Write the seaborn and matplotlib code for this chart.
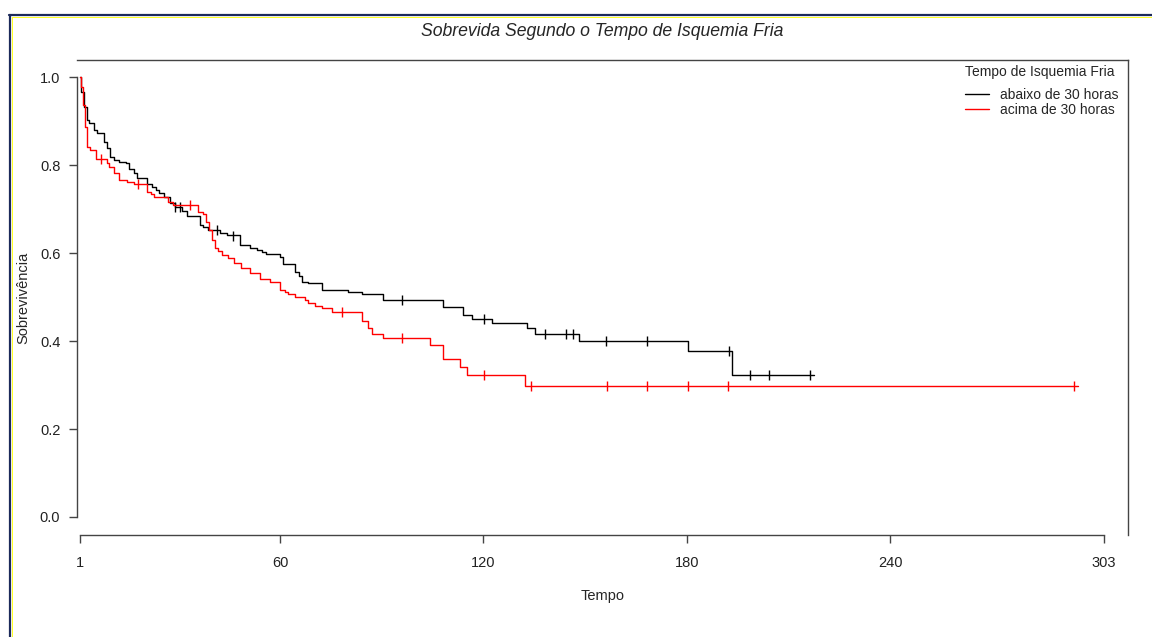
import numpy as np
import pandas as pd
import matplotlib
matplotlib.use("Agg")
import matplotlib.pyplot as plt
import seaborn as sns
from matplotlib.lines import Line2D

# Kaplan-Meier steps (time, survival after the step)
t_abaixo = [1, 1.4, 2.2, 3.0, 3.7, 5.1, 6.1, 8.1, 9.1, 10.0, 11.0, 12.5, 14.5, 15.4,
            16.9, 17.9, 20.8, 22.3, 23.3, 24.3, 25.8, 27.5, 29.0, 31.0, 32.5, 36.4,
            37.4, 38.8, 42.3, 44.3, 48.2, 51.1, 53.1, 54.6, 56.0, 60.0, 61.0, 64.4,
            65.5, 66.4, 68.3, 72.3, 80.1, 84.1, 90.4, 108.1, 114.0, 116.5, 122.4,
            132.7, 135.2, 148.2, 180.4, 193.4, 217.5]
s_abaixo = [1.0, 0.967, 0.933, 0.902, 0.896, 0.880, 0.872, 0.853, 0.840, 0.819, 0.811,
            0.807, 0.804, 0.792, 0.781, 0.770, 0.758, 0.750, 0.743, 0.737, 0.728, 0.713,
            0.705, 0.696, 0.684, 0.664, 0.660, 0.652, 0.645, 0.641, 0.618, 0.611, 0.607,
            0.603, 0.598, 0.590, 0.576, 0.557, 0.548, 0.535, 0.531, 0.516, 0.512, 0.507,
            0.493, 0.477, 0.459, 0.451, 0.440, 0.429, 0.416, 0.400, 0.377, 0.322, 0.322]

t_acima = [1, 1.4, 2.0, 2.4, 3.2, 4.1, 5.6, 9.1, 9.6, 11.0, 12.5, 15.0, 17.0, 20.8,
           21.8, 22.8, 27.0, 28.5, 35.9, 37.4, 38.2, 39.1, 39.8, 40.8, 41.8, 42.8,
           44.7, 46.5, 48.5, 51.0, 54.0, 57.0, 60.0, 61.5, 62.4, 64.4, 67.4, 68.3,
           70.3, 72.3, 75.2, 84.1, 86.0, 87.0, 90.4, 104.2, 108.1, 113.1, 115.0,
           132.2, 295.3]
s_acima = [1.0, 0.978, 0.936, 0.887, 0.842, 0.835, 0.815, 0.805, 0.796, 0.781, 0.766,
           0.762, 0.758, 0.739, 0.734, 0.728, 0.717, 0.709, 0.694, 0.689, 0.671, 0.652,
           0.630, 0.611, 0.604, 0.596, 0.588, 0.578, 0.566, 0.555, 0.541, 0.535, 0.516,
           0.512, 0.508, 0.501, 0.493, 0.487, 0.480, 0.474, 0.465, 0.446, 0.429, 0.416,
           0.406, 0.391, 0.360, 0.342, 0.323, 0.298, 0.298]

# censored observations
cens_t_abaixo = [29.0, 30.5, 41.3, 46.2, 96.1, 120.2, 138.1, 144.2, 146.3, 156.2,
                 168.1, 192.3, 198.5, 204.3, 216.3]
cens_s_abaixo = [0.705, 0.705, 0.652, 0.638, 0.493, 0.451, 0.416, 0.416, 0.416, 0.400,
                 0.400, 0.377, 0.322, 0.322, 0.322]
cens_t_acima = [7.3, 18.1, 33.4, 78.2, 96.1, 120.2, 134.0, 156.4, 168.2, 180.3, 192.1, 294.1]
cens_s_acima = [0.815, 0.758, 0.709, 0.465, 0.406, 0.323, 0.298, 0.298, 0.298, 0.298,
                0.298, 0.298]

x_ticks = [1, 60, 120, 180, 240, 303]
y_ticks = [0.0, 0.2, 0.4, 0.6, 0.8, 1.0]

sns.set_style("white")
plt.rcParams["font.family"] = ["Liberation Sans", "DejaVu Sans"]

fig = plt.figure(figsize=(11.52, 6.37), dpi=100)
ax = fig.add_axes([77 / 1152, 1 - 535 / 637, (1128 - 77) / 1152, (535 - 60) / 637])

sns.lineplot(x=t_abaixo, y=s_abaixo, ax=ax, color="black", drawstyle="steps-post",
             estimator=None, sort=False, linewidth=1.0)
sns.lineplot(x=t_acima, y=s_acima, ax=ax, color="#ff0000", drawstyle="steps-post",
             estimator=None, sort=False, linewidth=1.0)
sns.scatterplot(x=cens_t_abaixo, y=cens_s_abaixo, ax=ax, marker="|", s=60,
                color="black", linewidth=1.0)
sns.scatterplot(x=cens_t_acima, y=cens_s_acima, ax=ax, marker="|", s=60,
                color="#ff0000", linewidth=1.0)

ax.set_xlim(0.12, 310.1)
ax.set_ylim(-0.041, 1.039)
ax.set_xticks(x_ticks)
ax.set_xticklabels([str(v) for v in x_ticks])
ax.set_yticks(y_ticks)
ax.set_yticklabels([f"{v:.1f}" for v in y_ticks])

for side in ["left", "bottom", "top", "right"]:
    ax.spines[side].set_visible(True)
    ax.spines[side].set_color("#444444")
    ax.spines[side].set_linewidth(1.0)
ax.spines["left"].set_bounds(0, 1)
ax.spines["bottom"].set_bounds(1, 303)

ax.tick_params(axis="both", direction="out", length=6, width=1.0, color="#444444",
               labelsize=10.5, labelcolor="#222222")
ax.tick_params(axis="x", pad=9)
ax.tick_params(axis="y", pad=6)
ax.tick_params(left=True, bottom=True)

ax.set_xlabel("Tempo", fontsize=10.5, labelpad=14)
ax.set_ylabel("Sobrevivência", fontsize=10.5, labelpad=7)
ax.set_title("Sobrevida Segundo o Tempo de Isquemia Fria", fontsize=12.7, style="italic",
             pad=17)

handles = [Line2D([], [], color="black", linewidth=1.0),
           Line2D([], [], color="#ff0000", linewidth=1.0)]
leg = ax.legend(handles, ["abaixo de 30 horas", "acima de 30 horas"],
                title="Tempo de Isquemia Fria", loc="upper right",
                bbox_to_anchor=(1.003, 1.015), frameon=False, fontsize=10,
                title_fontsize=10, handlelength=1.7, handletextpad=0.8,
                labelspacing=0.1, alignment="left")
leg._legend_box.sep = 6

# window border (navy + yellow)
fig.add_artist(Line2D([9 / 1152, 1], [1 - 15 / 637, 1 - 15 / 637], transform=fig.transFigure,
                      color="#1c2a5a", linewidth=1.6))
fig.add_artist(Line2D([10 / 1152, 10 / 1152], [0, 1 - 15 / 637], transform=fig.transFigure,
                      color="#1c2a5a", linewidth=1.6))
fig.add_artist(Line2D([11.5 / 1152, 1], [1 - 16.8 / 637, 1 - 16.8 / 637], transform=fig.transFigure,
                      color="#ffff00", linewidth=0.6))
fig.add_artist(Line2D([11.8 / 1152, 11.8 / 1152], [0, 1 - 16.8 / 637], transform=fig.transFigure,
                      color="#ffff00", linewidth=0.6))

fig.savefig("out.png", dpi=100)
